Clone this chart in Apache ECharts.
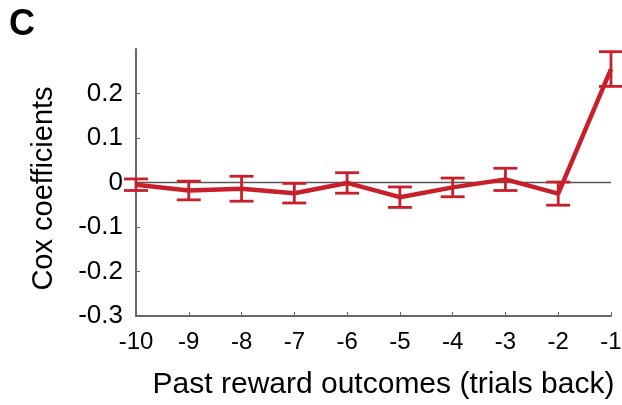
<!DOCTYPE html>
<html><head><meta charset="utf-8">
<script src="https://cdn.jsdelivr.net/npm/echarts@6/dist/echarts.min.js"></script>
<style>html,body{margin:0;padding:0;background:#fff}#c{width:622px;height:405px}</style>
</head><body><div id="c"></div>
<script>
const trialsBack = [-10, -9, -8, -7, -6, -5, -4, -3, -2, -1];
const coxMean = [-0.005, -0.018, -0.014, -0.024, -0.001, -0.033, -0.011, 0.007, -0.025, 0.255];
const coxErr = [0.013, 0.021, 0.028, 0.022, 0.023, 0.023, 0.021, 0.025, 0.026, 0.039];
const yTicks = [-0.3, -0.2, -0.1, 0, 0.1, 0.2];

const red = '#C8202A';
const font = 'Liberation Sans, Arial, sans-serif';
const chart = echarts.init(document.getElementById('c'));
chart.setOption({
  backgroundColor: '#ffffff',
  animation: false,
  graphic: [{type: 'text', left: 9, top: 7, style: {text: 'C', font: 'bold 36px ' + font, fill: '#000'}}],
  grid: {left: 136, right: 11, top: 49, bottom: 89, containLabel: false, outerBoundsMode: 'none'},
  xAxis: {
    type: 'value', min: -10, max: -1, interval: 1,
    name: 'Past reward outcomes (trials back)', nameLocation: 'middle', nameGap: 54,
    nameTextStyle: {fontFamily: font, fontSize: 30, color: '#000', padding: [0, 0, 0, 20]},
    axisLine: {onZero: false, lineStyle: {color: '#666', width: 2}},
    axisTick: {inside: true, length: 4, lineStyle: {color: '#666'}},
    axisLabel: {fontFamily: font, fontSize: 24, color: '#000', margin: 14, formatter: v => String(v)},
    splitLine: {show: false}
  },
  yAxis: {
    type: 'value', min: -0.3, max: 0.3, interval: 0.1,
    name: 'Cox coefficients', nameLocation: 'middle', nameGap: 78,
    nameTextStyle: {fontFamily: font, fontSize: 29, color: '#000', padding: [0, 12, 0, 0]},
    axisLine: {onZero: false, lineStyle: {color: '#666', width: 2}},
    axisTick: {inside: true, length: 4, lineStyle: {color: '#666'},
      customValues: yTicks},
    axisLabel: {fontFamily: font, fontSize: 26, color: '#000', margin: 13,
      customValues: yTicks,
      formatter: v => { const r = Math.round(v * 10) / 10; return r === 0 ? '0' : String(r); }},
    splitLine: {show: false}
  },
  series: [
    {
      type: 'line', data: [[trialsBack[0], 0], [trialsBack[trialsBack.length - 1], 0]],
      symbol: 'none', lineStyle: {color: '#555', width: 1.5}, z: 1, silent: true
    },
    {
      type: 'custom', z: 3,
      data: trialsBack.map((x, i) => [x, coxMean[i] - coxErr[i], coxMean[i] + coxErr[i]]),
      renderItem: function (params, api) {
        const lo = api.coord([api.value(0), api.value(1)]);
        const hi = api.coord([api.value(0), api.value(2)]);
        const w = 12;
        const st = {stroke: red, lineWidth: 2.8, fill: 'none'};
        return {type: 'group', children: [
          {type: 'line', shape: {x1: lo[0], y1: lo[1], x2: hi[0], y2: hi[1]}, style: st},
          {type: 'line', shape: {x1: lo[0] - w, y1: lo[1], x2: lo[0] + w, y2: lo[1]}, style: st},
          {type: 'line', shape: {x1: hi[0] - w, y1: hi[1], x2: hi[0] + w, y2: hi[1]}, style: st}
        ]};
      }
    },
    {
      type: 'line', z: 4,
      data: trialsBack.map((x, i) => [x, coxMean[i]]),
      symbol: 'none', lineStyle: {color: red, width: 4.5}
    }
  ]
});
</script></body></html>
